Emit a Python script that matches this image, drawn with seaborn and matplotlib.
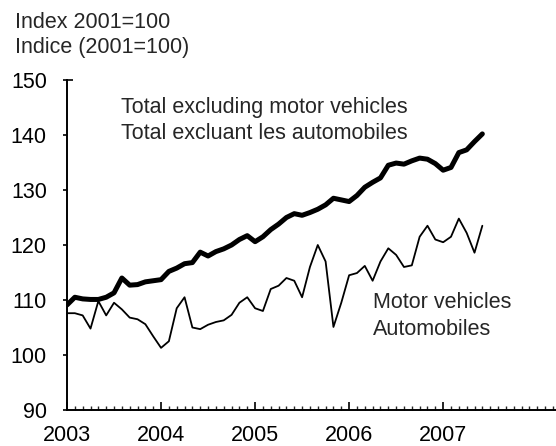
import numpy as np
import pandas as pd
import matplotlib
matplotlib.use("Agg")
import matplotlib.pyplot as plt
from matplotlib.ticker import MultipleLocator
import seaborn as sns

# Monthly index values, January 2003 onward (2001=100)
start_year = 2003
total_excl_motor = [
    109.1, 110.5, 110.2, 110.1, 110.1, 110.5, 111.3, 114.0, 112.7, 112.8,
    113.3, 113.5, 113.7, 115.2, 115.8, 116.6, 116.8, 118.7, 118.0, 118.8,
    119.3, 120.0, 121.0, 121.7, 120.6, 121.5, 122.8, 123.8, 125.0, 125.7,
    125.4, 125.9, 126.5, 127.3, 128.5, 128.2, 127.9, 129.0, 130.5, 131.4,
    132.2, 134.5, 134.9, 134.7, 135.3, 135.8, 135.6, 134.8, 133.6, 134.1,
    136.8, 137.3, 138.8, 140.2,
]
motor_vehicles = [
    107.6, 107.6, 107.2, 104.8, 109.8, 107.2, 109.5, 108.3, 106.8, 106.5,
    105.6, 103.4, 101.3, 102.5, 108.5, 110.5, 105.0, 104.7, 105.5, 106.0,
    106.3, 107.3, 109.5, 110.5, 108.5, 108.0, 112.0, 112.6, 114.0, 113.5,
    110.5, 116.0, 120.0, 117.0, 105.1, 109.5, 114.5, 114.9, 116.2, 113.5,
    117.0, 119.4, 118.2, 116.0, 116.3, 121.5, 123.5, 121.0, 120.5, 121.5,
    124.8, 122.2, 118.6, 123.5,
]
year_ticks = [2003, 2004, 2005, 2006, 2007]
y_ticks = [90, 100, 110, 120, 130, 140, 150]

n = len(total_excl_motor)
t = start_year + np.arange(n) / 12.0
df = pd.DataFrame({"t": t, "total": total_excl_motor, "motor": motor_vehicles})

sns.set_style("ticks")
plt.rcParams["font.family"] = ["Liberation Sans", "DejaVu Sans"]
FS = 15.5
plt.rcParams["font.size"] = FS

W, H = 556, 446
fig = plt.figure(figsize=(W / 100, H / 100), dpi=100)
ax = fig.add_axes([67 / W, 1 - 410 / H, 1 - 67 / W, (410 - 80) / H])

sns.lineplot(data=df, x="t", y="total", ax=ax, color="black", linewidth=3.6,
             solid_joinstyle="round", solid_capstyle="round")
sns.lineplot(data=df, x="t", y="motor", ax=ax, color="black", linewidth=1.3,
             solid_joinstyle="round")

ax.set_xlim(2003, 2008.2)
ax.set_ylim(90, 150)
ax.set_xticks(year_ticks)
ax.set_xticklabels([str(y) for y in year_ticks])
ax.xaxis.set_minor_locator(MultipleLocator(1 / 12))
ax.set_yticks(y_ticks)
ax.set_yticklabels([str(v) for v in y_ticks])
ax.set_xlabel("")
ax.set_ylabel("")

for s in ("top", "right"):
    ax.spines[s].set_visible(False)
for s in ("left", "bottom"):
    ax.spines[s].set_linewidth(1.4)
    ax.spines[s].set_color("black")

ax.tick_params(axis="x", which="major", direction="in", length=5.5, width=1.2,
               pad=10.5, colors="black")
ax.tick_params(axis="x", which="minor", direction="in", length=3.2, width=1.0)
ax.tick_params(axis="y", which="major", direction="out", length=3, width=1.2,
               pad=11.5, colors="black")
ax.tick_params(labelsize=FS, labelcolor="black")

# short cap at the top of the value axis
ax.plot([2003, 2003 + 0.06], [150, 150], color="black", lw=1.2,
        clip_on=False, solid_capstyle="butt")

def px(x, y):
    return x / W, 1 - y / H

fig.text(*px(15, 28), "Index 2001=100", fontsize=FS, va="baseline")
fig.text(*px(15, 53), "Indice (2001=100)", fontsize=FS, va="baseline")
fig.text(*px(121, 113), "Total excluding motor vehicles", fontsize=FS, va="baseline")
fig.text(*px(121, 139), "Total excluant les automobiles", fontsize=FS, va="baseline")
fig.text(*px(373, 308), "Motor vehicles", fontsize=FS, va="baseline")
fig.text(*px(373, 335), "Automobiles", fontsize=FS, va="baseline")

fig.savefig("out.png", dpi=100)
